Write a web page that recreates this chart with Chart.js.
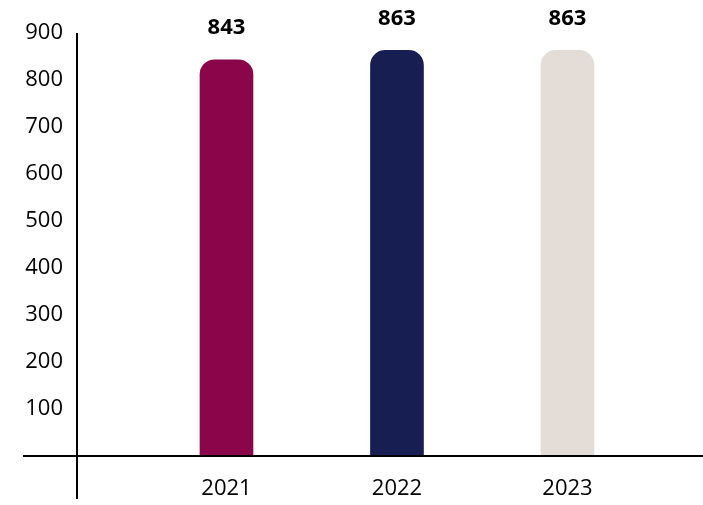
<!DOCTYPE html>
<html>
<head>
<meta charset="utf-8">
<script src="https://cdn.jsdelivr.net/npm/chart.js@4/dist/chart.umd.min.js"></script>
<style>
  html, body { margin: 0; padding: 0; background: #ffffff; }
  #wrap { width: 703px; height: 505px; position: relative; }
</style>
</head>
<body>
<div id="wrap"><canvas id="c" width="703" height="505"></canvas></div>
<script>
const years = ['2021', '2022', '2023'];
const values = [843, 863, 863];
const barColors = ['#8B054B', '#171F52', '#E3DCD7'];
const yTicks = [100, 200, 300, 400, 500, 600, 700, 800, 900];

const FONT = "'Open Sans', 'Noto Sans', sans-serif";

const axesPlugin = {
  id: 'axesLines',
  afterDraw(chart) {
    const ctx = chart.ctx;
    const ys = chart.scales.y;
    const area = chart.chartArea;
    const y0 = ys.getPixelForValue(0);
    ctx.save();
    ctx.strokeStyle = '#000000';
    ctx.lineWidth = 2;
    ctx.beginPath();
    ctx.moveTo(23, y0);
    ctx.lineTo(chart.width, y0);
    ctx.moveTo(area.left, area.top);
    ctx.lineTo(area.left, 499);
    ctx.stroke();
    ctx.restore();
  }
};

const labelPlugin = {
  id: 'valueLabels',
  afterDatasetsDraw(chart) {
    const ctx = chart.ctx;
    const meta = chart.getDatasetMeta(0);
    ctx.save();
    ctx.font = "bold 22px " + FONT;
    ctx.fillStyle = '#000000';
    ctx.textAlign = 'center';
    ctx.textBaseline = 'middle';
    meta.data.forEach((el, i) => {
      ctx.fillText(String(values[i]), el.x, el.y - 32);
    });
    ctx.restore();
  }
};

new Chart(document.getElementById('c'), {
  type: 'bar',
  data: {
    datasets: [{
      data: values.map((v, i) => ({ x: i, y: v })),
      backgroundColor: barColors,
      borderWidth: 0,
      borderRadius: 15,
      borderSkipped: 'start',
      barThickness: 53
    }]
  },
  options: {
    responsive: false,
    animation: false,
    devicePixelRatio: 1,
    layout: { padding: { top: 33, left: 0, right: 0, bottom: 0 } },
    plugins: { legend: { display: false }, tooltip: { enabled: false } },
    scales: {
      x: {
        type: 'linear',
        offset: false,
        min: -0.8768,
        max: 2.795,
        grid: { display: false, drawTicks: false, offset: false },
        border: { display: false },
        afterBuildTicks: (s) => { s.ticks = years.map((_, i) => ({ value: i })); },
        afterFit: (s) => { s.height = 49; },
        ticks: {
          autoSkip: false,
          maxRotation: 0,
          padding: 20,
          color: '#000000',
          font: { family: FONT, size: 22 },
          callback: (v) => years[v]
        }
      },
      y: {
        min: 0,
        max: 900,
        grid: { display: false, drawTicks: false },
        border: { display: false },
        afterBuildTicks: (s) => { s.ticks = yTicks.map(v => ({ value: v })); },
        afterFit: (s) => { s.width = 77; },
        ticks: {
          padding: 14,
          color: '#000000',
          font: { family: FONT, size: 22 }
        }
      }
    }
  },
  plugins: [axesPlugin, labelPlugin]
});
</script>
</body>
</html>
